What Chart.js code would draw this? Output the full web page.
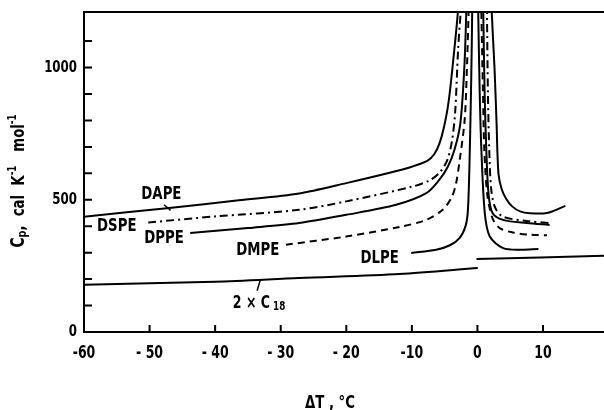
<!DOCTYPE html>
<html>
<head>
<meta charset="utf-8">
<script src="https://cdn.jsdelivr.net/npm/chart.js@4.4.0/dist/chart.umd.min.js"></script>
<style>
  body { margin: 0; background: #fff; }
  canvas { display: block; }
</style>
</head>
<body>
<canvas id="cpChart" width="604" height="410"></canvas>
<script>
// heat capacity curves, [dT, Cp] pairs; each lipid split at the transition peak
const dapeBelow = [[-60,436],[-47,469],[-36.4,498],[-27.2,524],[-20,563],[-13.4,602],[-9.9,626],[-7.6,648],[-6.6,672],[-5.8,712],[-5.1,775],[-4.4,870],[-3.6,1050],[-3.0,1205],[-2.8,1300]];
const dapeAbove = [[2.12,1300],[2.18,1210],[2.6,1000],[2.9,802],[3.2,600],[3.7,540],[4.4,503],[5.3,475],[6.5,456],[8,449],[10.6,450],[13.4,477]];
const dspeBelow = [[-50.2,414],[-40,437],[-27.2,462],[-20,494],[-9.9,550],[-7.2,575],[-5.7,605],[-4.6,650],[-3.9,720],[-3.4,830],[-2.95,1067],[-2.45,1250],[-2.35,1300]];
const dspeAbove = [[1.4,1300],[1.45,1210],[1.6,900],[1.8,689],[2.1,540],[2.7,470],[3.9,436],[7.5,420],[11,412]];
const dppeBelow = [[-43.8,374],[-35,393],[-27.2,412],[-20,443],[-12.4,481],[-7.8,525],[-5.8,576],[-4.5,626],[-3.5,689],[-2.6,790],[-2.0,1000],[-1.7,1210],[-1.65,1300]];
const dppeAbove = [[0.87,1300],[0.89,1210],[1.1,900],[1.35,689],[1.7,520],[2.3,450],[3.9,424],[7.5,412],[11,405]];
const dmpeBelow = [[-29.2,330],[-20,361],[-11.9,397],[-7.8,424],[-5.3,462],[-4.0,506],[-3.3,557],[-2.7,651],[-1.95,802],[-1.6,1000],[-1.35,1210],[-1.3,1300]];
const dmpeAbove = [[0.56,1300],[0.6,1210],[0.85,900],[1.05,689],[1.5,520],[2.3,430],[3.4,393],[5.45,376],[8,368],[10.6,366]];
const dlpeBelow = [[-10.1,299],[-6.3,311],[-4.2,328],[-2.7,356],[-1.8,402],[-1.45,462],[-1.2,650],[-0.95,954],[-0.8,1210],[-0.78,1300]];
const dlpeAbove = [[0.1,1300],[0.12,1210],[0.35,900],[0.6,689],[1.12,450],[1.88,361],[3.92,317],[6.47,311],[9.3,314]];
const alkaneSolid = [[-60,179],[-40,190],[-27.2,204],[-11.9,219],[0.05,242]];
const alkaneLiquid = [[-0.15,276],[19.3,288]];

const xTicks = [-60, -50, -40, -30, -20, -10, 0, 10];
const xTickLabels = ['-60', '- 50', '- 40', '- 30', '- 20', '-10', '0', '10'];
const yTicks = [0, 100, 200, 300, 400, 500, 600, 700, 800, 900, 1000, 1100];
const yTickLabels = { 0: '0', 500: '500', 1000: '1000' };

const FONT = '"DejaVu Sans Condensed", "DejaVu Sans", sans-serif';
const SQUEEZE = 0.82; // lettering is narrower than the font

// curve names and where they sit (data units)
const callouts = [
  { text: 'DAPE', x: -48.2, y: 519 },
  { text: 'DSPE', x: -55.0, y: 400 },
  { text: 'DPPE', x: -47.8, y: 354 },
  { text: 'DMPE', x: -33.5, y: 307 },
  { text: 'DLPE', x: -14.9, y: 277 }
];
const leaders = [
  [[-47.8, 481], [-46.8, 460]],
  [[-33.1, 198], [-33.6, 156]]
];

const pts = arr => arr.map(([x, y]) => ({ x, y }));

function curve(data, dash) {
  return {
    data: pts(data),
    showLine: true,
    borderColor: '#000',
    borderWidth: 2,
    borderDash: dash || [],
    pointRadius: 0,
    tension: 0.3,
    fill: false
  };
}

const solid = null;
const dashDot = [8, 4, 2, 4];
const dashed = [7, 5];

// text made of runs: [string, size, baseline shift]
function drawRich(ctx, parts, x, y, align) {
  let w = 0;
  parts.forEach(p => { ctx.font = `bold ${p[1]}px ${FONT}`; w += ctx.measureText(p[0]).width; });
  ctx.save();
  ctx.translate(x, y);
  ctx.scale(SQUEEZE, 1);
  let cx = align === 'right' ? -w : align === 'left' ? 0 : -w / 2;
  ctx.textAlign = 'left';
  ctx.textBaseline = 'middle';
  parts.forEach(p => {
    ctx.font = `bold ${p[1]}px ${FONT}`;
    ctx.fillText(p[0], cx, p[2]);
    cx += ctx.measureText(p[0]).width;
  });
  ctx.restore();
}

const annotate = {
  id: 'annotate',
  afterDraw(chart) {
    const { ctx, chartArea: a, scales: { x, y } } = chart;
    ctx.save();
    ctx.strokeStyle = '#000';
    ctx.fillStyle = '#000';
    ctx.lineWidth = 2;

    // top edge of the frame
    ctx.beginPath();
    ctx.moveTo(a.left - 1, a.top);
    ctx.lineTo(a.right, a.top);
    ctx.stroke();

    // tick marks point into the plot
    ctx.beginPath();
    xTicks.forEach(v => {
      const px = x.getPixelForValue(v);
      ctx.moveTo(px, a.bottom);
      ctx.lineTo(px, a.bottom - 7);
    });
    yTicks.forEach(v => {
      const py = y.getPixelForValue(v);
      ctx.moveTo(a.left, py);
      ctx.lineTo(a.left + 8, py);
    });
    ctx.stroke();

    // tick labels
    xTicks.forEach((v, i) => drawRich(ctx, [[xTickLabels[i], 17, 0]], x.getPixelForValue(v), a.bottom + 22));
    yTicks.forEach(v => {
      if (yTickLabels[v]) drawRich(ctx, [[yTickLabels[v], 16, 0]], a.left - 7, y.getPixelForValue(v), 'right');
    });

    ctx.lineWidth = 1.5;
    ctx.beginPath();
    leaders.forEach(([p, q]) => {
      ctx.moveTo(x.getPixelForValue(p[0]), y.getPixelForValue(p[1]));
      ctx.lineTo(x.getPixelForValue(q[0]), y.getPixelForValue(q[1]));
    });
    ctx.stroke();

    callouts.forEach(c => drawRich(ctx, [[c.text, 18, 0]], x.getPixelForValue(c.x), y.getPixelForValue(c.y)));

    // 2 x C18 label
    drawRich(ctx, [['2 × C', 17, 0], [' 18', 12, 4]], x.getPixelForValue(-33.3), y.getPixelForValue(109));

    // axis titles
    drawRich(ctx, [['ΔT , °C', 18, 0]], 330, 403);
    ctx.save();
    ctx.translate(19, 181);
    ctx.rotate(-Math.PI / 2);
    drawRich(ctx, [['C', 19, 0], ['p', 13, 4], [',  cal  K', 18, 0], ['-1', 12, -6], ['   mol', 18, 0], ['-1', 12, -6]], 0, 0);
    ctx.restore();

    ctx.restore();
  }
};

new Chart(document.getElementById('cpChart'), {
  type: 'scatter',
  data: {
    datasets: [
      curve(dapeBelow, solid), curve(dapeAbove, solid),
      curve(dspeBelow, dashDot), curve(dspeAbove, dashDot),
      curve(dppeBelow, solid), curve(dppeAbove, solid),
      curve(dmpeBelow, dashed), curve(dmpeAbove, dashed),
      curve(dlpeBelow, solid), curve(dlpeAbove, solid),
      curve(alkaneSolid, solid), curve(alkaneLiquid, solid)
    ]
  },
  options: {
    responsive: false,
    animation: false,
    devicePixelRatio: 1,
    layout: { padding: { top: 12, right: 0, left: 0, bottom: 0 } },
    plugins: { legend: { display: false }, tooltip: { enabled: false } },
    scales: {
      x: {
        type: 'linear',
        min: -60,
        max: 19.3,
        grid: { display: false, drawTicks: false },
        border: { display: true, color: '#000', width: 2 },
        afterBuildTicks: s => { s.ticks = xTicks.map(v => ({ value: v })); },
        afterFit: s => { s.height = 78; },
        ticks: { display: false }
      },
      y: {
        type: 'linear',
        min: 0,
        max: 1210,
        grid: { display: false, drawTicks: false },
        border: { display: true, color: '#000', width: 2 },
        afterBuildTicks: s => { s.ticks = yTicks.map(v => ({ value: v })); },
        afterFit: s => { s.width = 84; },
        ticks: { display: false }
      }
    }
  },
  plugins: [annotate]
});
</script>
</body>
</html>
